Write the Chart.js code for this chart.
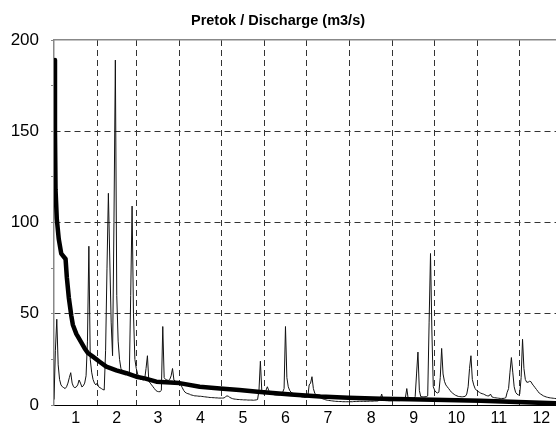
<!DOCTYPE html>
<html>
<head>
<meta charset="utf-8">
<script src="https://cdn.jsdelivr.net/npm/chart.js@4"></script>
<style>
  html, body { margin: 0; padding: 0; background: #fff; overflow: hidden; }
</style>
</head>
<body>
<canvas id="chart" width="556" height="428"></canvas>
<script>
// --- DATA ---
const monthLabels = ['1', '2', '3', '4', '5', '6', '7', '8', '9', '10', '11', '12'];
const monthDays = [31, 28, 31, 30, 31, 30, 31, 31, 30, 31, 30, 31];
const yTickLabels = [0, 50, 100, 150, 200];
const yMinorTicks = [25, 75, 125, 175];

// daily discharge (m3/s), one value per day of the year
const dailyFlow = [
  // Jan
  3, 30, 47, 22, 14, 11, 10, 9.5, 9, 10, 12, 15, 17.7, 12, 10, 9.5, 9.9, 11, 13.7, 12, 9.9, 10.5, 12, 16, 35, 87, 25, 18, 14, 12, 11,
  // Feb
  12, 10, 9.5, 9, 8.5, 8.2, 30, 75, 116, 80, 45, 27, 100, 189, 60, 35, 25, 20, 19, 17.7, 17.5, 18.6, 17, 16, 60, 109, 50, 25,
  // Mar
  20, 17, 15, 14, 14, 13.7, 14, 20, 27, 13, 12, 11, 10, 9, 8, 7.5, 7.3, 7.3, 8, 43, 15, 14, 13.7, 13.5, 14, 16, 20, 13.7, 13, 12.8, 12,
  // Apr
  11.5, 11, 9.5, 8, 7, 6.5, 6.2, 6, 5.6, 5.4, 5.2, 5, 5, 4.9, 4.8, 4.8, 4.7, 4.6, 4.5, 4.4, 4.3, 4.2, 4.1, 4.1, 4, 4, 3.9, 3.9, 3.8, 3.8,
  // May
  3.8, 3.8, 3.9, 4.5, 5, 4.8, 4.2, 3.8, 3.5, 3.3, 3.2, 3.1, 3, 3, 2.9, 2.9, 2.8, 2.8, 2.8, 2.7, 2.7, 2.7, 2.7, 2.6, 2.7, 2.8, 3, 8, 24, 8, 6,
  // Jun
  6.5, 8, 10, 8, 6.5, 6, 5.8, 5.6, 5.5, 5.5, 5.4, 5.5, 6, 7, 9, 43, 15, 10, 8, 7, 6.5, 6, 5.6, 5.2, 5, 4.8, 4.6, 4.4, 4.3, 4.2,
  // Jul
  4.3, 4.5, 11, 12, 15.5, 9, 6.5, 5.5, 5, 4.5, 4, 3.6, 3.3, 3, 2.8, 2.6, 2.5, 2.4, 2.3, 2.2, 2.1, 2, 2, 1.9, 1.9, 1.9, 1.8, 1.8, 1.8, 1.8, 1.8,
  // Aug
  1.8, 1.8, 1.8, 1.9, 1.9, 1.9, 2, 2, 2, 2, 2, 2, 2, 2, 2.1, 2.1, 2.1, 2.1, 2.2, 2.2, 2.2, 2.5, 3.5, 6, 2.8, 2.5, 2.4, 2.4, 2.3, 2.3, 2.3,
  // Sep
  2.4, 2.4, 2.4, 2.4, 2.4, 2.4, 2.5, 2.5, 2.6, 4, 9, 3.5, 3.5, 3.5, 3.5, 3.6, 4.6, 17, 29, 8, 4.6, 4.5, 4.5, 4.5, 4.6, 5, 45, 83, 40, 10,
  // Oct
  8, 7, 6.6, 7, 15, 31, 17, 13, 11, 10, 9, 8, 7, 6.4, 5.8, 5.3, 5, 4.7, 4.6, 4.5, 4.5, 4.6, 4.8, 6, 10, 20, 27, 14, 11, 9, 8,
  // Nov
  7.5, 7, 6.5, 6.2, 6, 5.6, 5.2, 5, 5, 6, 4.5, 4.2, 4, 3.9, 3.8, 3.7, 3.6, 3.6, 3.6, 3.7, 4, 7, 9, 18, 26, 18, 10, 7, 6, 5.5,
  // Dec
  6, 15, 36, 20, 14, 12.5, 12.5, 13, 12.8, 11.5, 10.5, 9.5, 8.5, 7.5, 6.5, 6, 5.5, 5, 4.7, 4.4, 4.2, 4, 3.9, 3.8, 3.7, 3.6, 3.5, 3.4, 3.3, 3.2, 3.1
];

// flow duration curve (days exceeded, m3/s)
const durationDays = [0, 0.7, 1.1, 2, 3.4, 5.2, 8.3, 9.2, 10.6, 12.4, 13.5, 16, 18.3, 22, 24.3, 27.9, 32.7, 37.5, 44.7, 51.9, 59, 65, 73.4, 90, 104.5, 119, 133, 146, 170, 191, 211, 235, 255, 306, 360, 365];
const durationFlow = [189, 150, 118, 102, 91, 83, 80, 70, 59, 49, 44, 39, 36, 31, 28.5, 26.5, 23.7, 21, 19, 17.4, 15.5, 14.6, 12.8, 12, 10, 9, 8.2, 7.3, 5.8, 4.6, 4, 3.4, 3.1, 2.3, 0.9, 0.8];

// --- TICK POSITIONS ---
const monthEnds = [];
const monthMids = [];
let acc = 0;
monthDays.forEach(n => { monthMids.push(acc + n / 2); acc += n; monthEnds.push(acc); });
const xBoundaries = monthEnds.slice(0, 11);
const xTickValues = [...monthMids, ...xBoundaries].sort((a, b) => a - b);
const yTickValues = [...yTickLabels, ...yMinorTicks].sort((a, b) => a - b);

Chart.defaults.font.family = "'Liberation Sans', Arial, sans-serif";
Chart.defaults.color = '#000';

new Chart(document.getElementById('chart'), {
  type: 'line',
  data: {
    datasets: [
      {
        label: 'Duration',
        data: durationDays.map((d, i) => ({ x: d, y: durationFlow[i] })),
        borderColor: '#000',
        borderWidth: 4.5,
        pointRadius: 0,
        borderJoinStyle: 'round',
        order: 0
      },
      {
        label: 'Daily',
        data: dailyFlow.map((v, i) => ({ x: i, y: v })),
        borderColor: '#111',
        borderWidth: 1,
        pointRadius: 0,
        order: 1
      }
    ]
  },
  options: {
    responsive: false,
    animation: false,
    layout: { padding: 0 },
    plugins: {
      legend: { display: false },
      tooltip: { enabled: false },
      title: {
        display: true,
        text: 'Pretok / Discharge (m3/s)',
        color: '#000',
        font: { size: 14.5, weight: 'bold' },
        padding: { top: 12, bottom: 10.6 }
      }
    },
    scales: {
      x: {
        type: 'linear',
        min: 0,
        max: 360,
        afterBuildTicks: s => { s.ticks = xTickValues.map(v => ({ value: v })); },
        afterFit: s => { s.height = 23; },
        ticks: {
          autoSkip: false,
          maxRotation: 0,
          padding: 4,
          font: { size: 16 },
          callback: v => { const i = monthMids.indexOf(v); return i >= 0 ? monthLabels[i] : ''; }
        },
        grid: {
          drawTicks: false,
          lineWidth: 1,
          color: ctx => (ctx.tick && xBoundaries.includes(ctx.tick.value)) ? '#333' : 'rgba(0,0,0,0)'
        },
        border: { display: true, color: '#000', width: 1, dash: [6, 4] }
      },
      xTop: {
        type: 'linear',
        position: 'top',
        min: 0,
        max: 360,
        ticks: { display: false },
        grid: { drawOnChartArea: false, drawTicks: false },
        border: { display: true, color: '#888', width: 1.5 }
      },
      y: {
        min: 0,
        max: 200,
        afterBuildTicks: s => { s.ticks = yTickValues.map(v => ({ value: v })); },
        afterFit: s => { s.width = 54; },
        ticks: {
          padding: 12,
          font: { size: 17 },
          callback: v => yTickLabels.includes(v) ? String(v) : ''
        },
        grid: {
          tickLength: 3,
          tickColor: '#888',
          lineWidth: 1,
          color: ctx => {
            const v = ctx.tick ? ctx.tick.value : 0;
            return (v % 50 === 0 && v > 0 && v < 200) ? '#333' : 'rgba(0,0,0,0)';
          }
        },
        border: { display: true, color: '#888', width: 1.5, dash: [6, 4] }
      }
    }
  }
});
</script>
</body>
</html>
